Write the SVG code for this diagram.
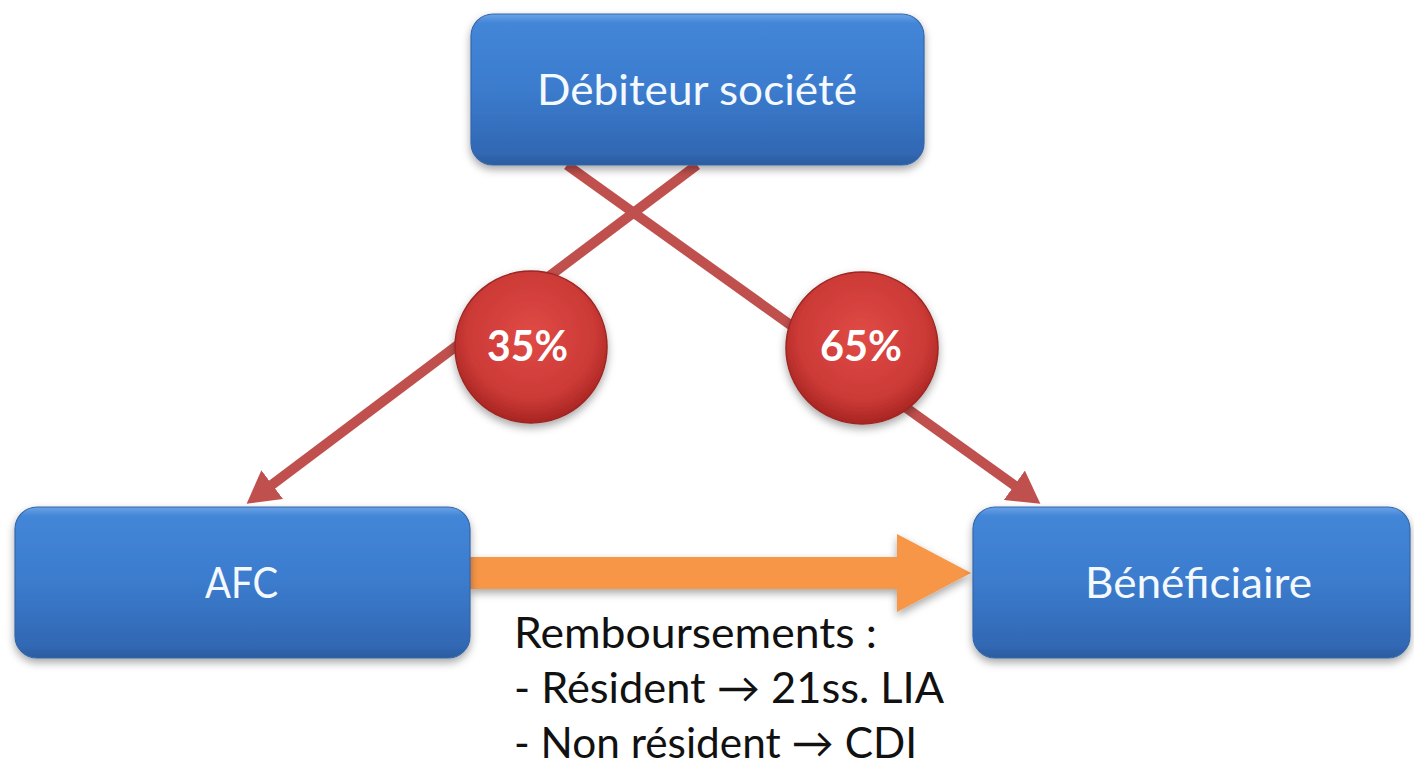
<svg xmlns="http://www.w3.org/2000/svg" width="1414" height="765" viewBox="0 0 1414 765">
  <style>
    .box { fill: url(#blueGrad); stroke: #3466a8; stroke-width: 1.2; filter: url(#shadow); }
    .boxText { font-family: Lato, "Open Sans", "Liberation Sans", sans-serif; font-size: 42px; fill: #f4f9ff; }
    .redLine { stroke: #c0504d; stroke-width: 10; fill: none; marker-end: url(#redHead); }
    .badge { fill: url(#redGrad); stroke: #9b2522; stroke-width: 1.5; filter: url(#shadow); }
    .badgeText { font-family: Lato, "Open Sans", "Liberation Sans", sans-serif; font-size: 42px; font-weight: bold; fill: #ffffff; }
    .note { font-family: Lato, "Open Sans", "Liberation Sans", "DejaVu Sans", sans-serif; font-size: 42px; fill: #111111; }
  </style>
  <defs>
    <linearGradient id="blueGrad" x1="0" y1="0" x2="0" y2="1">
      <stop offset="0" stop-color="#6aa2e6"/>
      <stop offset="0.06" stop-color="#4386d8"/>
      <stop offset="0.5" stop-color="#3b7bcd"/>
      <stop offset="0.92" stop-color="#3168b4"/>
      <stop offset="1" stop-color="#2b5c9f"/>
    </linearGradient>
    <radialGradient id="redGrad" cx="0.5" cy="0.42" r="0.6">
      <stop offset="0" stop-color="#e04a46"/>
      <stop offset="0.7" stop-color="#cc3a36"/>
      <stop offset="1" stop-color="#a3221f"/>
    </radialGradient>
    <filter id="shadow" x="-10%" y="-10%" width="120%" height="130%">
      <feDropShadow dx="0" dy="4" stdDeviation="4" flood-color="#000" flood-opacity="0.35"/>
    </filter>
    <marker id="redHead" markerUnits="userSpaceOnUse" viewBox="0 0 32 36" refX="2" refY="18" markerWidth="32" markerHeight="36" orient="auto">
      <path d="M0,0 L32,18 L0,36 Z" fill="#c0504d"/>
    </marker>
  </defs>

  <g id="connectors">
    <line class="redLine" x1="567" y1="165" x2="1016" y2="486.4"/>
    <line class="redLine" x1="697" y1="165" x2="270.6" y2="485.8"/>
    <path id="orange-arrow" d="M470,557 L897,557 L897,534 L971,573 L897,612 L897,589 L470,589 Z" fill="#f79646" filter="url(#shadow)"/>
  </g>

  <g id="node-debiteur">
    <rect class="box" x="471" y="14" width="453" height="151" rx="22"/>
    <text class="boxText" x="537" y="105" textLength="320" lengthAdjust="spacingAndGlyphs">Débiteur société</text>
  </g>

  <g id="node-afc">
    <rect class="box" x="15" y="507" width="455" height="151" rx="22"/>
    <text class="boxText" x="205" y="598" textLength="73" lengthAdjust="spacingAndGlyphs">AFC</text>
  </g>

  <g id="node-beneficiaire">
    <rect class="box" x="973" y="507" width="437" height="151" rx="22"/>
    <text class="boxText" x="1085" y="598" textLength="227" lengthAdjust="spacingAndGlyphs">Bénéficiaire</text>
  </g>

  <g id="badge-35">
    <circle class="badge" cx="531" cy="347" r="76"/>
    <text class="badgeText" x="487" y="361" textLength="81" lengthAdjust="spacingAndGlyphs">35%</text>
  </g>

  <g id="badge-65">
    <circle class="badge" cx="862" cy="348" r="76"/>
    <text class="badgeText" x="820" y="361" textLength="82" lengthAdjust="spacingAndGlyphs">65%</text>
  </g>

  <g id="note-remboursements">
    <text class="note" x="514" y="648" textLength="363" lengthAdjust="spacingAndGlyphs">Remboursements :</text>
    <text class="note" x="514" y="703" textLength="430" lengthAdjust="spacingAndGlyphs">- Résident → 21ss. LIA</text>
    <text class="note" x="514" y="758" textLength="403" lengthAdjust="spacingAndGlyphs">- Non résident → CDI</text>
  </g>
</svg>
